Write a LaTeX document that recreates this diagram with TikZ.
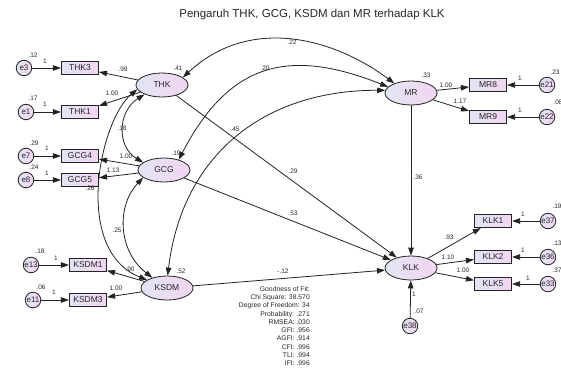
\documentclass[tikz,border=0pt]{standalone}
\usepackage{fontspec}
\setmainfont{Liberation Sans}
\usetikzlibrary{arrows.meta,shapes.geometric}
\definecolor{lineC}{RGB}{35,35,35}
\definecolor{txtC}{RGB}{40,40,40}
\definecolor{fillL}{RGB}{226,229,243}
\definecolor{fillR}{RGB}{242,214,242}
\begin{document}
\begin{tikzpicture}[x=1pt,y=-1pt,
  lat/.style={ellipse, draw=lineC, line width=0.8pt, left color=fillL, right color=fillR, minimum width=52pt, minimum height=24pt, inner sep=0pt, text=txtC, font=\fontsize{8.5}{10}\selectfont},
  obs/.style={rectangle, draw=lineC, line width=1.1pt, left color=fillL, right color=fillR, minimum width=37pt, minimum height=13pt, inner sep=0pt, text=txtC, font=\fontsize{8.5}{10}\selectfont},
  err/.style={circle, draw=lineC, line width=0.8pt, left color=fillL, right color=fillR, minimum size=15.5pt, inner sep=0pt, text=txtC, font=\fontsize{8}{9}\selectfont},
  arr/.style={draw=lineC, line width=0.8pt, -{Triangle[length=8pt,width=5.5pt]}},
  cov/.style={draw=lineC, line width=0.8pt, {Triangle[length=8pt,width=5.5pt]}-{Triangle[length=8pt,width=5.5pt]}},
  lbl/.style={font=\fontsize{6.5}{7}\selectfont, text=txtC, inner sep=0pt},
]
\fill[white] (0,0) rectangle (561,367);
\useasboundingbox (0,0) rectangle (561,367);

\node[font=\fontsize{11.5}{13}\selectfont, text=txtC] (title) at (312,15) {Pengaruh THK, GCG, KSDM dan MR terhadap KLK};

% latent
\node[lat] (THK) at (162,85) {THK};
\node[lat] (GCG) at (164,170) {GCG};
\node[lat] (KSDM) at (167,288) {KSDM};
\node[lat] (MR) at (411,93) {MR};
\node[lat] (KLK) at (411,268) {KLK};

% observed
\node[obs] (THK3) at (80,68) {THK3};
\node[obs] (THK1) at (80,112) {THK1};
\node[obs] (GCG4) at (80,156) {GCG4};
\node[obs] (GCG5) at (80,180) {GCG5};
\node[obs] (KSDM1) at (88,265) {KSDM1};
\node[obs] (KSDM3) at (88,300) {KSDM3};
\node[obs] (MR8) at (488,85) {MR8};
\node[obs] (MR9) at (488,117) {MR9};
\node[obs] (KLK1) at (493,221) {KLK1};
\node[obs] (KLK2) at (493,257) {KLK2};
\node[obs] (KLK5) at (493,284) {KLK5};

% errors
\node[err] (e3) at (24,68) {e3};
\node[err] (e1) at (26,112) {e1};
\node[err] (e7) at (26,156) {e7};
\node[err] (e8) at (26,180) {e8};
\node[err] (e13) at (31,265) {e13};
\node[err] (e11) at (33,300) {e11};
\node[err] (e21) at (547,85) {e21};
\node[err] (e22) at (547,117) {e22};
\node[err] (e37) at (548,221) {e37};
\node[err] (e36) at (548,257) {e36};
\node[err] (e33) at (548,284) {e33};
\node[err] (e38) at (410,326) {e38};

% error arrows
\foreach \e/\o in {e3/THK3,e1/THK1,e7/GCG4,e8/GCG5,e13/KSDM1,e11/KSDM3,e21/MR8,e22/MR9,e37/KLK1,e36/KLK2,e33/KLK5,e38/KLK}
  \draw[arr] (\e) -- (\o);

% loadings
\foreach \l/\o in {THK/THK3,THK/THK1,GCG/GCG4,GCG/GCG5,KSDM/KSDM1,KSDM/KSDM3,MR/MR8,MR/MR9,KLK/KLK1,KLK/KLK2,KLK/KLK5}
  \draw[arr] (\l) -- (\o);

% structural
\draw[arr] (THK) -- (KLK);
\draw[arr] (GCG) -- (KLK);
\draw[arr] (KSDM) -- (KLK);
\draw[arr] (MR) -- (KLK);

% covariances
\draw[cov] (THK.20) .. controls (249,16) and (332,37) .. (MR.150);
\draw[cov] (GCG.35) .. controls (229,63) and (288,47) .. (MR.165);
\draw[cov] (KSDM.87) .. controls (182,156) and (263,90) .. (MR.174);
\draw[cov] (THK.208) .. controls (117,112) and (117,147) .. (GCG.160);
\draw[cov] (GCG.200) .. controls (117,205) and (117,250) .. (KSDM.145);
\draw[cov] (THK.190) .. controls (100,120) and (72,250) .. (KSDM.158);

% variance labels
\node[lbl] at (178,68) {.41};
\node[lbl] at (176,153) {.19};
\node[lbl] at (181,271) {.52};
\node[lbl] at (426,75) {.33};
% error variances
\node[lbl] at (33,55) {.12};
\node[lbl] at (33,98) {.17};
\node[lbl] at (34,143) {.29};
\node[lbl] at (34,167) {.24};
\node[lbl] at (40,251) {.18};
\node[lbl] at (41,287) {.06};
\node[lbl] at (555,72) {.23};
\node[lbl] at (558,102) {.08};
\node[lbl] at (557,206) {.19};
\node[lbl] at (557,243) {.13};
\node[lbl] at (557,270) {.37};
\node[lbl] at (419,311) {.07};
% ones
\foreach \p in {(45,61),(45,104),(47,148),(47,173),(56,258),(54,292),(520,78),(520,110),(523,214),(523,250),(528,278),(414,294)}
  \node[lbl] at \p {1};
% loadings
\node[lbl] at (123,69) {.99};
\node[lbl] at (112,93) {1.00};
\node[lbl] at (126,156) {1.00};
\node[lbl] at (113,170) {1.13};
\node[lbl] at (130,269) {.90};
\node[lbl] at (116,288) {1.00};
\node[lbl] at (446,85) {1.00};
\node[lbl] at (460,101) {1.17};
\node[lbl] at (449,237) {.93};
\node[lbl] at (448,257) {1.10};
\node[lbl] at (463,270) {1.00};
% covariances
\node[lbl] at (122,128) {.18};
\node[lbl] at (117,230) {.25};
\node[lbl] at (90,188) {.26};
\node[lbl] at (292,42) {.22};
\node[lbl] at (265,68) {.20};
\node[lbl] at (235,129) {.45};
% paths
\node[lbl] at (293,171) {.29};
\node[lbl] at (293,213) {.53};
\node[lbl] at (283,271) {-.12};
\node[lbl] at (418,177) {.36};

\node[anchor=north east, align=right, inner sep=0pt, text=txtC, font=\fontsize{6.8}{8.3}\selectfont] (gof) at (310,286) {Goodness of Fit:\\Chi Square: 38.570\\Degree of Freedom: 34\\Probability: .271\\RMSEA: .030\\GFI: .956\\AGFI: .914\\CFI: .996\\TLI: .994\\IFI: .996};
\end{tikzpicture}
\end{document}
